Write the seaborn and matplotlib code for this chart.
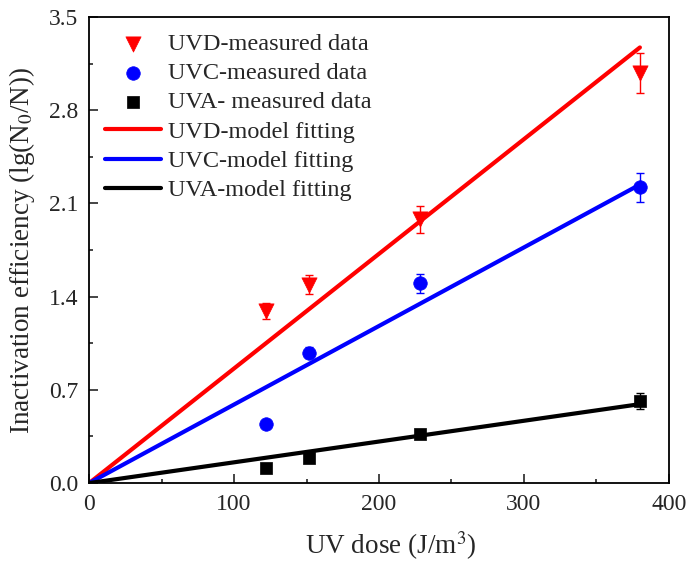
import numpy as np
import pandas as pd
import matplotlib
matplotlib.use("Agg")
import matplotlib.pyplot as plt
import seaborn as sns
from matplotlib.ticker import MultipleLocator

# measured data
dose = [122, 152, 228, 380]
uvd = [1.29, 1.49, 1.98, 3.08]
uvd_err = [0.06, 0.07, 0.10, 0.15]
uvc = [0.44, 0.98, 1.50, 2.22]
uvc_err = [0.02, 0.04, 0.07, 0.11]
uva = [0.11, 0.19, 0.37, 0.62]
uva_err = [0.02, 0.02, 0.02, 0.06]

# model fitting slopes (lg(N0/N) per J/m3)
fit_dose = [0, 380]
k_uvd = 0.00861
k_uvc = 0.00590
k_uva = 0.00156

sns.set_style("ticks")
plt.rcParams['font.family'] = ['Liberation Serif', 'DejaVu Serif']
plt.rcParams['mathtext.fontset'] = 'stix'

df = pd.DataFrame({
    "dose": dose * 3,
    "eff": uvd + uvc + uva,
    "err": uvd_err + uvc_err + uva_err,
    "group": ["UVD"] * 4 + ["UVC"] * 4 + ["UVA"] * 4,
})

colors = {"UVD": "#ff0000", "UVC": "#0000ff", "UVA": "#000000"}
markers = {"UVD": "v", "UVC": "o", "UVA": "s"}
sizes = {"UVD": 120, "UVC": 95, "UVA": 70}
meas_labels = {"UVD": "UVD-measured data", "UVC": "UVC-measured data",
               "UVA": "UVA- measured data"}
fit_k = {"UVD": k_uvd, "UVC": k_uvc, "UVA": k_uva}

fig, ax = plt.subplots(figsize=(6.91, 5.69), dpi=100)
fig.subplots_adjust(left=0.129, right=0.968, bottom=0.151, top=0.970)

for g in ["UVD", "UVC", "UVA"]:
    d = df[df["group"] == g]
    ax.errorbar(d["dose"], d["eff"], yerr=d["err"], fmt="none",
                ecolor=colors[g], elinewidth=1, capsize=3, capthick=1, zorder=3)
    sns.scatterplot(x="dose", y="eff", data=d, ax=ax, marker=markers[g],
                    s=sizes[g], color=colors[g], edgecolor=colors[g],
                    linewidth=0.5, label=meas_labels[g], zorder=4)

for g, name in [("UVD", "UVD-model fitting"), ("UVC", "UVC-model fitting"),
                ("UVA", "UVA-model fitting")]:
    fx = np.array(fit_dose)
    sns.lineplot(x=fx, y=fit_k[g] * fx, ax=ax, color=colors[g], linewidth=3,
                 label=name, zorder=2)

ax.set_xlim(0, 400)
ax.set_ylim(0, 3.5)
ax.xaxis.set_major_locator(MultipleLocator(100))
ax.xaxis.set_minor_locator(MultipleLocator(50))
ax.yaxis.set_major_locator(MultipleLocator(0.7))
ax.yaxis.set_minor_locator(MultipleLocator(0.35))
ax.yaxis.set_major_formatter(matplotlib.ticker.FormatStrFormatter("%.1f"))
ax.tick_params(which="major", direction="in", length=6.7, width=1.2,
               labelsize=17, pad=8)
ax.tick_params(which="minor", direction="in", length=3.2, width=1.2)
for s in ax.spines.values():
    s.set_linewidth(1.3)
    s.set_color("black")

ax.set_xlabel("UV dose (J/m$^3$)", fontsize=19.5)
ax.xaxis.set_label_coords(0.52, -0.10)
ax.set_ylabel("Inactivation efficiency (lg(N$_0$/N))", fontsize=19.5, labelpad=8)

leg = ax.legend(loc="upper left", frameon=False, fontsize=17.5,
                handlelength=2.3, handletextpad=0.3, labelspacing=0.3,
                borderaxespad=0.3, borderpad=0.35)

fig.savefig("out.png", dpi=100)
